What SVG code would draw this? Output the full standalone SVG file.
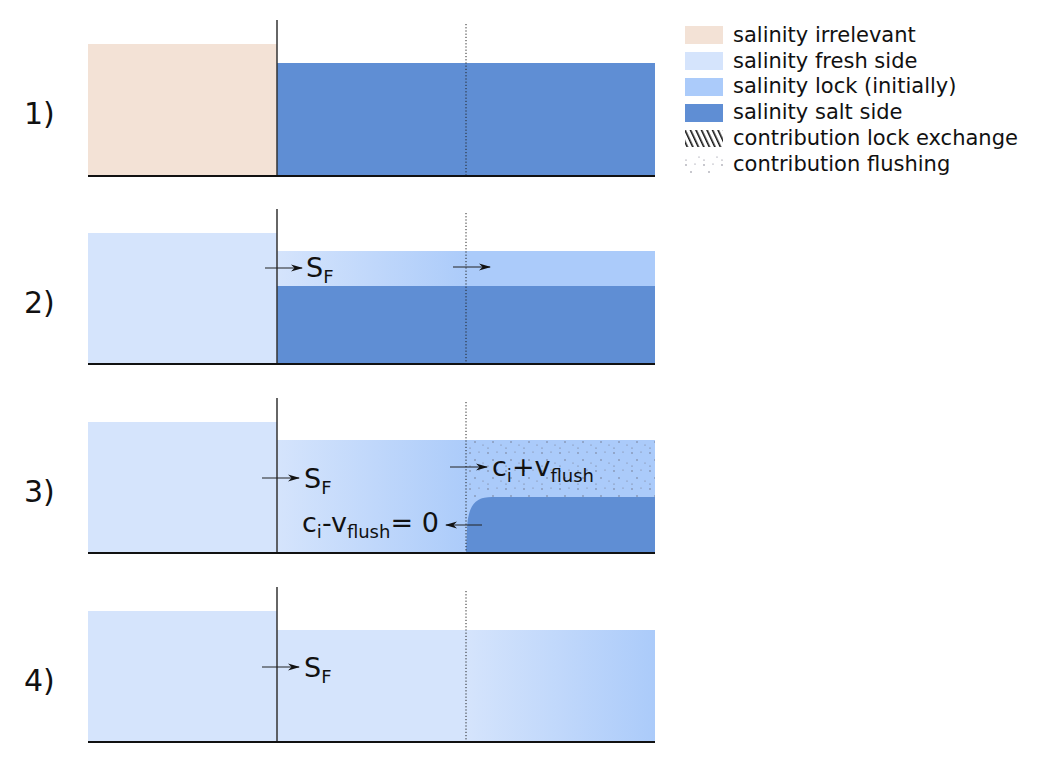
<svg xmlns="http://www.w3.org/2000/svg" width="1044" height="768" viewBox="0 0 1044 768">
<style>
.irr{fill:#f3e2d6}
.fresh{fill:#d5e4fc}
.lock{fill:#abcbfa}
.salt{fill:#5f8ed4}
.gate{stroke:#333;stroke-width:1.5;fill:none}
.bed{stroke:#111;stroke-width:2;fill:none}
.dot{stroke:#222;stroke-width:1;stroke-dasharray:1.2,2;fill:none}
.arr{stroke:#222;stroke-width:1.2;fill:none;marker-end:url(#ah)}
.num{font-family:"DejaVu Sans",sans-serif;font-size:30px;fill:#111}
.lab{font-family:"DejaVu Sans",sans-serif;font-size:27px;fill:#111}
.leg{font-family:"DejaVu Sans",sans-serif;font-size:21px;fill:#111}
.sub{font-size:18px}
</style>
<defs>
<marker id="ah" viewBox="0 0 12 8" refX="11" refY="4" markerWidth="12" markerHeight="8" markerUnits="userSpaceOnUse" orient="auto">
<path d="M0,0.5 L12,4 L0,7.5 L3.5,4 Z" fill="#111"/>
</marker>
<linearGradient id="g2" x1="277" y1="0" x2="470" y2="0" gradientUnits="userSpaceOnUse">
<stop offset="0" stop-color="#d5e4fc"/><stop offset="1" stop-color="#abcbfa"/>
</linearGradient>
<linearGradient id="g4" x1="466" y1="0" x2="655" y2="0" gradientUnits="userSpaceOnUse">
<stop offset="0" stop-color="#d5e4fc"/><stop offset="1" stop-color="#abcbfa"/>
</linearGradient>
<pattern id="hatch" width="5" height="5" patternUnits="userSpaceOnUse" patternTransform="rotate(-25)">
<rect width="1.6" height="5" fill="#111"/>
</pattern>
<pattern id="dots" width="18" height="18" patternUnits="userSpaceOnUse">
<circle cx="2" cy="3" r="0.7" fill="#667"/>
<circle cx="11" cy="2" r="0.6" fill="#778"/>
<circle cx="7" cy="10" r="0.7" fill="#667"/>
<circle cx="15" cy="13" r="0.6" fill="#778"/>
<circle cx="2" cy="16" r="0.6" fill="#667"/>
</pattern>
</defs>

<g id="panel1">
<rect class="irr" x="88" y="44" width="189" height="132"/>
<rect class="salt" x="277" y="63" width="378" height="113"/>
<line class="gate" x1="277" y1="20" x2="277" y2="176"/>
<line class="dot" x1="466" y1="24" x2="466" y2="176"/>
<line class="bed" x1="88" y1="176" x2="655" y2="176"/>
<text class="num" x="24" y="124">1)</text>
</g>

<g id="panel2">
<rect class="fresh" x="88" y="233" width="189" height="131"/>
<rect fill="url(#g2)" x="277" y="251" width="189" height="35"/>
<rect class="lock" x="466" y="251" width="189" height="35"/>
<rect class="salt" x="277" y="286" width="378" height="78"/>
<line class="gate" x1="277" y1="209" x2="277" y2="364"/>
<line class="dot" x1="466" y1="213" x2="466" y2="364"/>
<line class="bed" x1="88" y1="364" x2="655" y2="364"/>
<text class="num" x="24" y="313">2)</text>
</g>

<g id="panel3">
<rect class="fresh" x="88" y="422" width="189" height="131"/>
<rect fill="url(#g2)" x="277" y="440" width="189" height="113"/>
<rect class="lock" x="466" y="440" width="189" height="113"/>
<rect fill="url(#dots)" x="466" y="440" width="189" height="60"/>
<path class="salt" d="M466,553 L467,530 C468,505 475,497 492,497 L655,497 L655,553 Z"/>
<line class="gate" x1="277" y1="398" x2="277" y2="553"/>
<line class="dot" x1="466" y1="402" x2="466" y2="553"/>
<line class="bed" x1="88" y1="553" x2="655" y2="553"/>
<text class="num" x="24" y="502">3)</text>
</g>

<g id="panel4">
<rect class="fresh" x="88" y="611" width="189" height="131"/>
<rect class="fresh" x="277" y="630" width="189" height="112"/>
<rect fill="url(#g4)" x="466" y="630" width="189" height="112"/>
<line class="gate" x1="277" y1="587" x2="277" y2="742"/>
<line class="dot" x1="466" y1="591" x2="466" y2="742"/>
<line class="bed" x1="88" y1="742" x2="655" y2="742"/>
<text class="num" x="24" y="691">4)</text>
</g>

<g id="connectors">
<line class="arr" x1="265" y1="268" x2="302" y2="268"/>
<line class="arr" x1="453" y1="267" x2="490" y2="267"/>
<line class="arr" x1="262" y1="478" x2="299" y2="478"/>
<line class="arr" x1="450" y1="467" x2="487" y2="467"/>
<line class="arr" x1="482" y1="525" x2="446" y2="525"/>
<line class="arr" x1="262" y1="667" x2="299" y2="667"/>
</g>

<g id="labels">
<text class="lab" x="306" y="277">S<tspan class="sub" dy="6">F</tspan></text>
<text class="lab" x="304" y="488">S<tspan class="sub" dy="6">F</tspan></text>
<text class="lab" x="492" y="476">c<tspan class="sub" dy="6">i</tspan><tspan dy="-6">+v</tspan><tspan class="sub" dy="6">flush</tspan></text>
<text class="lab" x="302" y="532">c<tspan class="sub" dy="6">i</tspan><tspan dy="-6">-v</tspan><tspan class="sub" dy="6">flush</tspan><tspan dy="-6">= 0</tspan></text>
<text class="lab" x="304" y="677">S<tspan class="sub" dy="6">F</tspan></text>
</g>

<g id="legend">
<rect class="irr" x="685" y="26" width="38" height="18"/>
<rect class="fresh" x="685" y="52" width="38" height="18"/>
<rect class="lock" x="685" y="78" width="38" height="18"/>
<rect class="salt" x="685" y="104" width="38" height="18"/>
<rect fill="url(#hatch)" x="685" y="130" width="38" height="17"/>
<rect fill="url(#dots)" x="685" y="155" width="38" height="18"/>
<text class="leg" x="733" y="42">salinity irrelevant</text>
<text class="leg" x="733" y="68">salinity fresh side</text>
<text class="leg" x="733" y="93">salinity lock (initially)</text>
<text class="leg" x="733" y="119">salinity salt side</text>
<text class="leg" x="733" y="145">contribution lock exchange</text>
<text class="leg" x="733" y="171">contribution flushing</text>
</g>
</svg>
